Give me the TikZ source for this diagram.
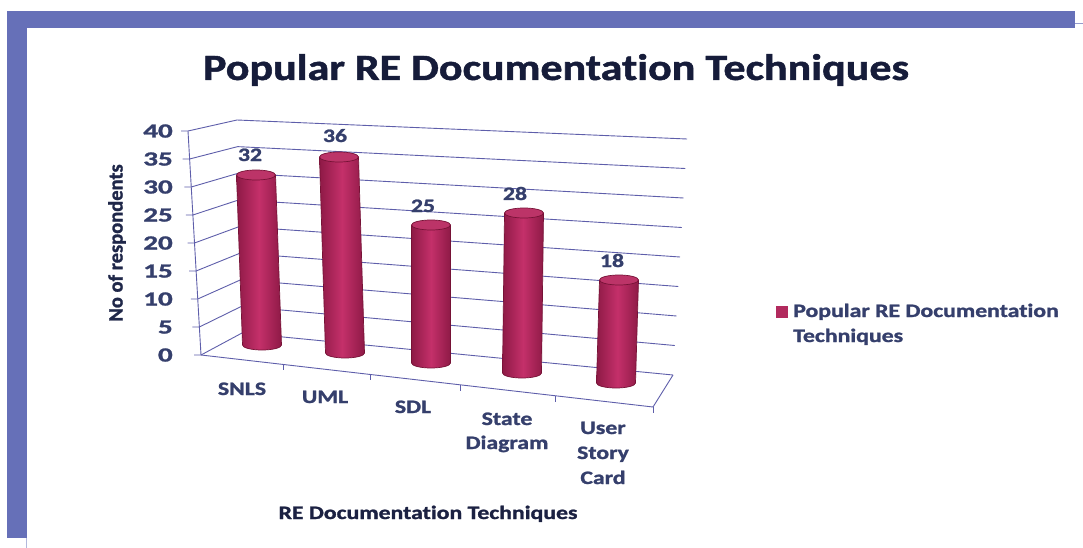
\documentclass[tikz,border=0pt]{standalone}
\usepackage{fontspec}
\setmainfont{Carlito}[Ligatures=NoCommon, BoldFeatures={FakeBold=1.2}]
\definecolor{frameblue}{HTML}{6670B8}
\definecolor{gridblue}{HTML}{5E5EAA}
\definecolor{labelnavy}{HTML}{353F6C}
\definecolor{titlenavy}{HTML}{161C3A}
\definecolor{barDark}{HTML}{8E1A46}
\definecolor{barMid}{HTML}{C4306A}
\definecolor{barTop}{HTML}{BC3468}
\definecolor{barRim}{HTML}{761236}
\definecolor{legendred}{HTML}{B22A5E}
% one cylinder: top centre (#1,#2), bottom centre (#3,#4)
\newcommand{\cylbar}[4]{%
  \shade[left color=barDark, right color=barDark, middle color=barMid]
    (#1-19.5,#2) -- (#3-19.5,#4)
    arc[start angle=180, end angle=360, x radius=19.5pt, y radius=5pt]
    -- (#1+19.5,#2) -- cycle;
  \draw[barRim, line width=0.7pt]
    (#1-19.5,#2) -- (#3-19.5,#4)
    arc[start angle=180, end angle=360, x radius=19.5pt, y radius=5pt]
    -- (#1+19.5,#2);
  \filldraw[fill=barTop, draw=barRim, line width=0.7pt]
    (#1,#2) ellipse[x radius=19.5pt, y radius=5pt];
}
\begin{document}
\begin{tikzpicture}[x=1pt, y=-1pt,
  lbl/.style={font=\bfseries\fontsize{19}{25}\selectfont, text=labelnavy,
              inner sep=0pt, xscale=1.25},
  ticklbl/.style={font=\bfseries\fontsize{20}{25}\selectfont, text=labelnavy,
              inner sep=0pt, xscale=1.45, anchor=base east},
  vallbl/.style={lbl, anchor=base},
  catlbl/.style={lbl, anchor=base},
  gridline/.style={draw=gridblue, line width=0.9pt},
]
\useasboundingbox (0,0) rectangle (1083,548);
\fill[white] (0,0) rectangle (1083,548);

% outer frame
\fill[frameblue] (7,11) rectangle (1075,28);
\fill[frameblue] (7,11) rectangle (27,538);
\draw[frameblue!70, line width=0.8pt] (1075,23) -- (1083,23);
\draw[frameblue!50, line width=0.6pt] (26.5,538) -- (26.5,548);

% title
\node[font=\bfseries\fontsize{37}{44}\selectfont, text=titlenavy,
      inner sep=0pt, xscale=1.19, anchor=base] (title) at (556,80)
  {Popular RE Documentation Techniques};

% walls: side-wall and back-wall gridlines with left ticks
\foreach \v in {0,5,...,40}{
  \pgfmathsetmacro{\fx}{201-13*\v/40}
  \pgfmathsetmacro{\fy}{355-224*\v/40}
  \pgfmathsetmacro{\lx}{242-5*\v/40}
  \pgfmathsetmacro{\ly}{333-213*\v/40}
  \pgfmathsetmacro{\rx}{673+14*\v/40}
  \pgfmathsetmacro{\ry}{375-236*\v/40}
  \draw[gridline] (\fx-7,\fy) -- (\fx,\fy) -- (\lx,\ly) -- (\rx,\ry);
  \node[ticklbl] at (173,\fy+6.5) {\v};
}
% vertical axis
\draw[gridline] (188,131) -- (201,355);
% floor edges and category ticks
\draw[gridline] (201,355) -- (653,407) -- (673,375);
\foreach \t in {283,370,460,555,653}{
  \pgfmathsetmacro{\ty}{355+(\t-201)/452*52}
  \draw[gridline] (\t,\ty) -- (\t,\ty+6);
}

% cylinders
\cylbar{256}{175}{262}{345}
\cylbar{339}{157}{345}{353}
\cylbar{431}{225}{431}{363}
\cylbar{524}{213}{522}{373}
\cylbar{619}{280}{616}{383}

% value labels
\node[vallbl] (v1) at (250,161) {32};
\node[vallbl] (v2) at (335,142) {36};
\node[vallbl] (v3) at (423,212) {25};
\node[vallbl] (v4) at (515,200) {28};
\node[vallbl] (v5) at (612,267) {18};

% category labels
\node[catlbl] (c1) at (242,395) {SNLS};
\node[catlbl] (c2) at (325,403) {UML};
\node[catlbl] (c3) at (413,413) {SDL};
\node[catlbl] (c4a) at (507,425) {State};
\node[catlbl] (c4b) at (507,449) {Diagram};
\node[catlbl] (c5a) at (603,434) {User};
\node[catlbl] (c5b) at (603,459) {Story};
\node[catlbl] (c5c) at (603,484) {Card};

% axis titles
\node[lbl, anchor=base, text=titlenavy!85!labelnavy] (xtitle) at (428,519)
  {RE Documentation Techniques};
\node[font=\bfseries\fontsize{20.5}{25}\selectfont, text=titlenavy!70!labelnavy,
      inner sep=0pt, rotate=90] (ytitle) at (117,243) {No of respondents};

% legend
\fill[legendred] (776,306) rectangle (788,318);
\node[lbl, anchor=base west] (leg1) at (793,317) {Popular RE Documentation};
\node[lbl, anchor=base west] (leg2) at (793,342) {Techniques};
\end{tikzpicture}
\end{document}
